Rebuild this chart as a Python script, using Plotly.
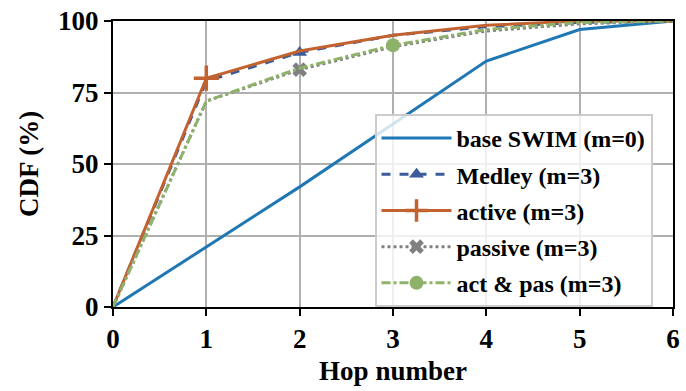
import plotly.graph_objects as go

hops = [0, 1, 2, 3, 4, 5, 6]
base_swim = [0, 21, 42, 64, 86, 97, 100]
medley = [0, 79, 89, 95, 98, 99.5, 100]
active = [0, 80, 89.5, 95, 98.5, 100, 100]
passive = [0, 72, 83, 91, 96.5, 99, 100]
act_pas = [0, 72, 83.5, 91.5, 97, 99.5, 100]
y_ticks = [0, 25, 50, 75, 100]

series = [
    ("base SWIM (m=0)", base_swim, "#1f77b4", "solid", None, None, 0),
    ("Medley (m=3)", medley, "#3b5b9a", "dash", "triangle-up", 2, 13),
    ("active (m=3)", active, "#c2622f", "solid", "cross-thin", 1, 18),
    ("passive (m=3)", passive, "#808080", "dot", "x", 2, 13),
    ("act & pas (m=3)", act_pas, "#8fb26b", "dashdot", "circle", 3, 14),
]

FF = "Liberation Serif"

fig = go.Figure()
for i, (name, ys, color, dash, sym, mi, msize) in enumerate(series):
    label = "<b>" + name.replace("&", "&amp;") + "</b>"
    if sym is None:
        fig.add_trace(go.Scatter(x=hops, y=ys, mode="lines", name=label,
                                 legendgroup=f"g{i}",
                                 line=dict(color=color, width=3, dash=dash)))
        continue
    fig.add_trace(go.Scatter(x=hops, y=ys, mode="lines",
                             line=dict(color=color, width=3, dash=dash),
                             showlegend=False, legendgroup=f"g{i}"))
    lw = 3.5 if sym == "cross-thin" else 0
    fig.add_trace(go.Scatter(x=[hops[mi]], y=[ys[mi]], mode="lines+markers", name=label,
                             legendgroup=f"g{i}",
                             line=dict(color=color, width=3, dash=dash),
                             marker=dict(color=color, size=msize, symbol=sym,
                                         line=dict(color=color, width=lw))))

axis_common = dict(showgrid=True, gridcolor="#b0b0b0", gridwidth=1.5,
                   showline=True, linecolor="black", linewidth=2, mirror=True,
                   ticks="outside", ticklen=7, tickwidth=2, tickcolor="black",
                   tickfont=dict(family=FF, size=27, color="black"),
                   ticklabeloverflow="allow", zeroline=False)

fig.add_annotation(x=0.5, y=0.5, xref="paper", yref="paper", showarrow=False,
                   text=" ", font=dict(family=FF, size=10, color="black"))

fig.update_layout(
    width=686, height=391,
    margin=dict(l=113, r=6, t=11, b=84),
    plot_bgcolor="white", paper_bgcolor="white",
    font=dict(family=FF, size=27, color="black"),
    xaxis=dict(range=[0, 6], tickvals=hops, ticktext=[f"<b>{v}</b>" for v in hops],
               title=dict(text="<b>Hop number</b>", font=dict(family=FF, size=27), standoff=8),
               **axis_common),
    yaxis=dict(range=[0, 100], tickvals=y_ticks, ticktext=[f"<b>{v}</b>" for v in y_ticks],
               title=dict(text="<b>CDF (%)</b>", font=dict(family=FF, size=27), standoff=12),
               **axis_common),
    legend=dict(x=0.467, y=0.675, xanchor="left", yanchor="top",
                bgcolor="rgba(255,255,255,0.8)", bordercolor="#cccccc", borderwidth=2,
                font=dict(family=FF, size=24, color="black"),
                traceorder="grouped", tracegroupgap=2, itemwidth=70),
)

post = (
    "var st=document.createElement('style');"
    "st.textContent=\"svg text, svg tspan{font-family:'Liberation Serif','Times New Roman',serif !important;}\";"
    "document.head.appendChild(st);"
    "var gd=document.getElementById('{plot_id}');"
    "Plotly.newPlot(gd, gd.data, gd.layout);"
)
fig.write_html("out.html", post_script=post)
